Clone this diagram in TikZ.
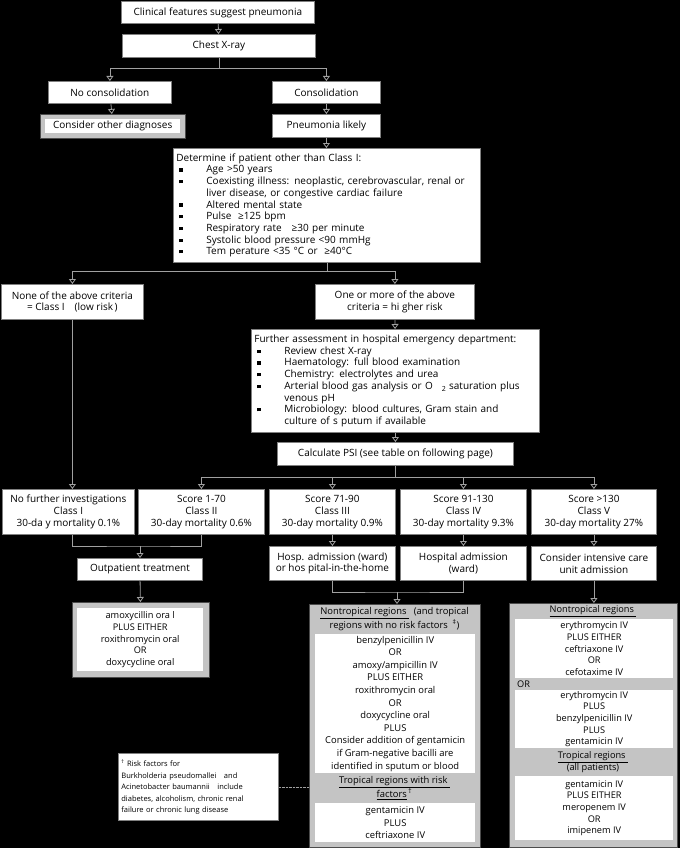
\documentclass[tikz,border=0pt]{standalone}
\usepackage{fontspec}
\setmainfont{Open Sans}
\usetikzlibrary{arrows.meta}
\definecolor{edgegray}{RGB}{128,128,128}
\definecolor{linkgray}{RGB}{160,160,160}
\definecolor{bandgray}{RGB}{196,196,196}
\newcommand\bul{\makebox[30pt][l]{\hspace{3pt}\rule[0.25ex]{3.2pt}{3.2pt}}}
\newcommand\hang{\hspace*{30pt}}

\begin{document}
\begin{tikzpicture} [
    x=1pt, y=-1pt,
    every node/.append style={font=\fontsize{10}{11.7}\selectfont},
    box/.style={draw=edgegray, line width=0.8pt, fill=white, inner sep=2pt, anchor=north west, align=center},
    listbox/.style={box, align=left, inner sep=3pt},
    frame/.style={draw=black!70, line width=1pt, fill=bandgray, anchor=north west, inner sep=0pt},
    panel/.style={fill=white, inner sep=0pt, anchor=north west, align=center},
    bandtext/.style={inner sep=0pt, align=center},
    link/.style={draw=linkgray, line width=0.8pt},
    arr/.style={link, -{Triangle[open, length=5pt, width=7pt]}}
  ]

  \useasboundingbox (0,0) rectangle (680,848);
  \fill [black] (0,0) rectangle (680,848);

  % top of the chart
  \node [box, minimum width=193, minimum height=22] (clin) at (121,1) {Clinical features suggest pneumonia};
  \node [box, minimum width=193, minimum height=23] (cxr) at (122,34) {Chest X-ray};
  \node [box, minimum width=123, minimum height=22] (nocons) at (48,81) {No consolidation};
  \node [box, minimum width=108, minimum height=22] (cons) at (272,81) {Consolidation};
  \node [frame, minimum width=145, minimum height=24] (other) at (40,114) {};
  \node [panel, minimum width=135, minimum height=14] (othertx) at (45,119) {Consider other diagnoses};
  \node [box, minimum width=108, minimum height=23] (likely) at (272,114) {Pneumonia likely};

  \node [listbox, text width=301, minimum height=114] (determine) at (173,148) {%
    Determine if patient other than Class I:\\
    \bul Age >50 years\\
    \bul Coexisting illness: neoplastic, cerebrovascular, renal or\\
    \hang liver disease, or congestive cardiac failure\\
    \bul Altered mental state\\
    \bul Pulse\ \ ≥125 bpm\\
    \bul Respiratory rate\ \ \ ≥30 per minute\\
    \bul Systolic blood pressure <90 mmHg\\
    \bul Tem perature <35 °C or\ \ ≥40°C};

  \node [box, minimum width=142, minimum height=35] (none) at (1,284) {None of the above criteria\\= Class I\quad(low risk\,)};
  \node [box, minimum width=159, minimum height=35] (higher) at (315,284) {One or more of the above\\criteria = hi gher risk};

  \node [listbox, text width=282, minimum height=103] (further) at (251,329) {%
    Further assessment in hospital emergency department:\\
    \bul Review chest X-ray\\
    \bul Haematology: full blood examination\\
    \bul Chemistry: electrolytes and urea\\
    \bul Arterial blood gas analysis or O\hspace{9pt}\raisebox{-2pt}{\scriptsize 2} saturation plus\\
    \hang venous pH\\
    \bul Microbiology: blood cultures, Gram stain and\\
    \hang culture of s putum if available};

  \node [box, minimum width=236, minimum height=23] (psi) at (277,442) {Calculate PSI (see table on following page)};

  % risk classes
  \node [box, minimum width=132, minimum height=45] (classi) at (2,489) {No further investigations\\Class I\\30-da y mortality 0.1\%};
  \node [box, minimum width=126, minimum height=45] (classii) at (138,489) {Score 1-70\\Class II\\30-day mortality 0.6\%};
  \node [box, minimum width=126, minimum height=45] (classiii) at (269,489) {Score 71-90\\Class III\\30-day mortality 0.9\%};
  \node [box, minimum width=126, minimum height=45] (classiv) at (400,489) {Score 91-130\\Class IV\\30-day mortality 9.3\%};
  \node [box, minimum width=125, minimum height=45] (classv) at (531,489) {Score >130\\Class V\\30-day mortality 27\%};

  \node [box, minimum width=125, minimum height=22] (outpt) at (77,558) {Outpatient treatment};
  \node [box, minimum width=126, minimum height=34] (ward) at (269,546) {Hosp. admission (ward)\\or hos pital-in-the-home};
  \node [box, minimum width=126, minimum height=34] (hosp) at (400,546) {Hospital admission\\(ward)};
  \node [box, minimum width=125, minimum height=34] (icu) at (531,546) {Consider intensive care\\unit admission};

  % treatment for outpatients
  \node [frame, minimum width=137, minimum height=75] (outtx) at (72,602) {};
  \node [panel, minimum width=126, minimum height=63, font=\fontsize{9.2}{11.7}\selectfont] at (77,608) {amoxycillin ora l\\PLUS EITHER\\roxithromycin oral\\OR\\doxycycline oral};

  % treatment for ward
  \begin{scope} [every node/.append style={font=\fontsize{9.4}{12.6}\selectfont}]
    \node [frame, minimum width=171, minimum height=243] (wardtx) at (309,604) {};
    \node [bandtext] at (394.5,619) {\underline{Nontropical regions\ }\ \ (and tropical\\regions with no risk factors\ \ \textsuperscript{‡})};
    \node [panel, minimum width=160, minimum height=139] at (315,634) {benzylpenicillin IV\\OR\\amoxy/ampicillin IV\\PLUS EITHER\\roxithromycin oral\\OR\\doxycycline oral\\PLUS\\Consider addition of gentamicin\\if Gram-negative bacilli are\\identified in sputum or blood};
    \node [bandtext] at (394.5,788) {\underline{Tropical regions with risk\ }\\\underline{factors}\,\textsuperscript{†}};
    \node [panel, minimum width=160, minimum height=39] at (315,803) {gentamicin IV\\PLUS\\ceftriaxone IV};
  \end{scope}

  % treatment for intensive care
  \begin{scope} [every node/.append style={font=\fontsize{9.2}{11.7}\selectfont}]
    \node [frame, minimum width=168, minimum height=244] (icutx) at (509,603) {};
    \node [bandtext] at (593,611) {\underline{Nontropical regions\ }};
    \node [panel, minimum width=158, minimum height=59] at (515,619) {erythromycin IV\\PLUS EITHER\\ceftriaxone IV\\OR\\cefotaxime IV};
    \node [bandtext, anchor=west] at (517,684) {OR};
    \node [panel, minimum width=158, minimum height=58] at (515,690) {erythromycin IV\\PLUS\\benzylpenicillin IV\\PLUS\\gentamicin IV};
    \node [bandtext] at (593,762) {\underline{Tropical regions\ }\\(all patients)};
    \node [panel, minimum width=158, minimum height=64] at (515,776) {gentamicin IV\\PLUS EITHER\\meropenem IV\\OR\\imipenem IV};
  \end{scope}

  \node [listbox, text width=154, minimum height=67, font=\fontsize{7.5}{11.5}\selectfont] (foot) at (118,753) {%
    \textsuperscript{†}\ Risk factors for\\
    Burkholderia pseudomallei\quad and\\
    Acinetobacter baumannii\quad include\\
    diabetes, alcoholism, chronic renal\\
    failure or chronic lung disease};

  % connectors
  \coordinate (cxrbus) at (213,68);
  \coordinate (critbus) at (326,271);
  \coordinate (psibus) at (395,477);
  \coordinate (lowbus) at (140,546);
  \coordinate (wardbus) at (397,592);

  \draw [arr] (clin) -- (cxr);
  \draw [link] (cxr.south) -- (cxr.south |- cxrbus);
  \draw [arr] (cxr.south |- cxrbus) -| (nocons.north);
  \draw [arr] (cxr.south |- cxrbus) -| (cons.north);
  \draw [arr] (nocons) -- (other);
  \draw [arr] (cons) -- (likely);
  \draw [arr] (likely.south) -- (likely.south |- determine.north);

  \draw [link] (determine.south) -- (determine.south |- critbus);
  \draw [arr] (determine.south |- critbus) -| (none.north);
  \draw [arr] (determine.south |- critbus) -| (higher.north);
  \draw [arr] (higher) -- (further);
  \draw [arr] (further) -- (psi);

  \draw [link] (psi.south) -- (psi.south |- psibus);
  \draw [link] (classii.north |- psibus) -- (classv.north |- psibus);
  \foreach \c in {classii, classiii, classiv, classv}
    \draw [arr] (\c.north |- psibus) -- (\c.north);
  \draw [arr] (none.south) -- (none.south |- classi.north);

  \draw [link] (none.south |- classi.south) |- (lowbus) -| (classii.south);
  \draw [arr] (lowbus) -- (lowbus |- outpt.north);
  \draw [arr] (outpt) -- (outtx);

  \draw [arr] (classiii) -- (ward);
  \draw [arr] (classiv) -- (hosp);
  \draw [arr] (classv) -- (icu);

  \draw [link] (ward.south) |- (wardbus) -| (hosp.south);
  \draw [arr] (wardbus) -- (wardbus |- wardtx.north);
  \draw [arr] (icu.south) -- (icu.south |- icutx.north);

  \draw [linkgray, densely dotted] (foot.east) -- (foot.east -| wardtx.west);
\end{tikzpicture}
\end{document}
